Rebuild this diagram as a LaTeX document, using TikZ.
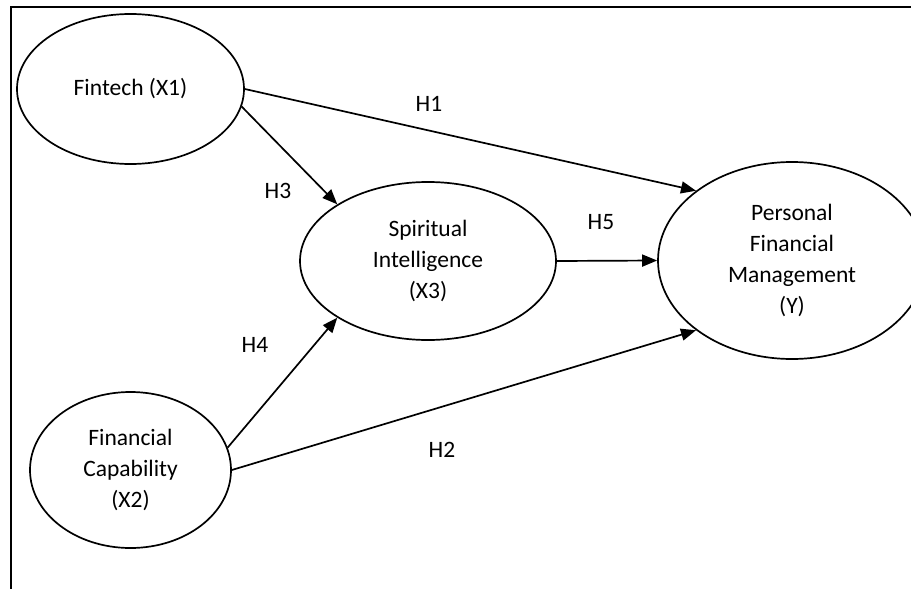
\documentclass[tikz,border=0pt]{standalone}
\usepackage{fontspec}
\setmainfont{Carlito}
\usetikzlibrary{shapes.geometric,arrows.meta}
\begin{document}
\begin{tikzpicture}[x=1pt,y=-1pt,
  var/.style={draw,ellipse,line width=1.7pt,inner sep=0pt,align=center,
    font=\fontsize{23.5}{31}\selectfont},
  hyp/.style={font=\fontsize{23.5}{31}\selectfont},
  link/.style={line width=1.7pt,-{Triangle[length=15pt,width=12pt]}},
  frame/.style={line width=2.8pt}]
\clip (0,0) rectangle (911,589);
\fill[white] (0,0) rectangle (911,589);
\draw[frame] (11,589) -- (11,7) -- (915,7);

\node[var,minimum width=227pt,minimum height=150pt] (fin) at (130.5,89) {Fintech (X1)};
\node[var,minimum width=256pt,minimum height=158pt] (si) at (428,261) {Spiritual\\Intelligence\\(X3)};
\node[var,minimum width=268pt,minimum height=197pt] (pfm) at (792,260.5) {Personal\\Financial\\Management\\(Y)};
\node[var,minimum width=201pt,minimum height=156pt] (fc) at (130.5,470) {Financial\\Capability\\(X2)};

\draw[link] (fin.east) -- (pfm.144);
\draw[link] (fin.-9) -- (si.148);
\draw[link] (si.east) -- (pfm.west);
\draw[link] (fc.13) -- (si.212);
\draw[link] (fc.east) -- (pfm.216);

\node[hyp] (h1) at (429,104) {H1};
\node[hyp] (h3) at (278,191) {H3};
\node[hyp] (h5) at (601,222) {H5};
\node[hyp] (h4) at (255,345) {H4};
\node[hyp] (h2) at (442,450) {H2};
\end{tikzpicture}
\end{document}
